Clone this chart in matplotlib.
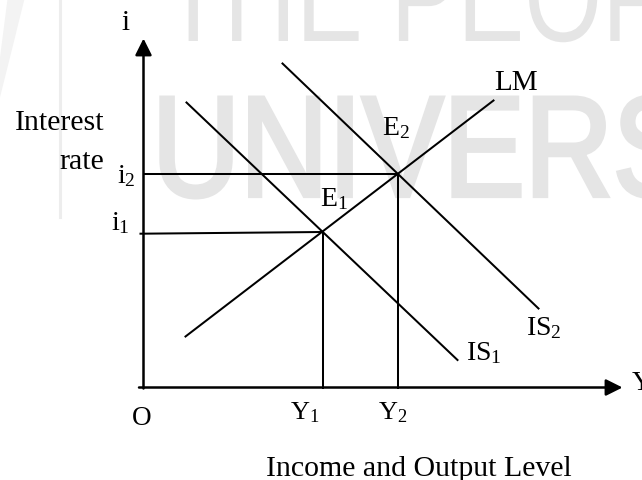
import matplotlib
matplotlib.use("Agg")
import matplotlib.pyplot as plt
from matplotlib.textpath import TextPath
from matplotlib.patches import PathPatch, Polygon
from matplotlib.font_manager import FontProperties
from matplotlib.transforms import Affine2D

plt.rcParams['font.family'] = ['Liberation Serif', 'DejaVu Serif']
plt.rcParams['mathtext.fontset'] = 'custom'
plt.rcParams['mathtext.rm'] = 'Liberation Serif'
plt.rcParams['mathtext.it'] = 'Liberation Serif:italic'

# equilibrium values (income, interest rate)
Y_EQ = [17.9, 25.4]      # Y1, Y2
I_EQ = [15.55, 21.35]    # i1, i2
I1_START = 15.38         # i1 guide starts a bit lower at the axis

# curves, end points
LM_X = [4.2, 35.0]
LM_Y = [5.1, 28.7]
IS1_X = [4.3, 31.4]
IS1_Y = [28.5, 2.75]
IS2_X = [13.9, 39.5]
IS2_Y = [32.4, 7.9]

X_END = 47.9
Y_END = 34.9

INK = 'black'
WM = '#e5e5e5'

fig = plt.figure(figsize=(6.42, 4.81), dpi=100)
ax = fig.add_axes([0, 0, 1, 1])
ax.set_xlim(-14.35, 49.85)
ax.set_ylim(-9.25, 38.85)
ax.axis('off')

# watermark in the background
def wm_text(s, x, y, size, sx, edge=0.0):
    tp = TextPath((0, 0), s, size=size, prop=FontProperties(family='Liberation Sans'))
    tr = Affine2D().scale(sx, 1.0).translate(x, y)
    ax.add_patch(PathPatch(tr.transform_path(tp), fc=WM, ec=WM, lw=edge, zorder=0))

wm_text("THE PEOPLE'S", 1.92, 34.65, 13.0, 0.77)
wm_text("UNIVERSITY", 0.85, 19.15, 14.3, 0.853, edge=3.0)
ax.plot([-8.35, -8.35], [38.85, 17.05], color='#ededed', lw=2.2, zorder=0)
ax.add_patch(Polygon([[-13.6, 38.85], [-11.9, 38.85], [-14.35, 29.0], [-14.35, 33.0]],
                     closed=True, fc='#f3f3f3', ec='none', zorder=0))

# axes with arrow heads
arr = dict(arrowstyle='-|>,head_length=0.4,head_width=0.2', color=INK, lw=1.8,
           mutation_scale=25, shrinkA=0, shrinkB=0)
ax.annotate('', xy=(X_END, 0), xytext=(-0.45, 0), arrowprops=arr)
ax.annotate('', xy=(0, Y_END), xytext=(0, -0.1), arrowprops=arr)

lw = 1.45
ax.plot(LM_X, LM_Y, color=INK, lw=lw)
ax.plot(IS1_X, IS1_Y, color=INK, lw=lw)
ax.plot(IS2_X, IS2_Y, color=INK, lw=lw)

# guide lines to the axes
ax.plot([-0.3, Y_EQ[0]], [I1_START, I_EQ[0]], color=INK, lw=lw)
ax.plot([0, Y_EQ[1]], [I_EQ[1], I_EQ[1]], color=INK, lw=lw)
for yv, iv in zip(Y_EQ, I_EQ):
    ax.plot([yv, yv], [0, iv], color=INK, lw=lw)

fs = 20
ax.text(-1.75, 36.55, 'i', fontsize=21, ha='center', va='center')
ax.text(-3.95, 26.55, 'Interest', fontsize=21.5, ha='right', va='center')
ax.text(-3.95, 22.65, 'rate', fontsize=21.5, ha='right', va='center')
ax.text(-0.75, 20.55, r'$\mathrm{i}_2$', fontsize=fs, ha='right', va='baseline')
ax.text(-1.35, 15.85, r'$\mathrm{i}_1$', fontsize=fs, ha='right', va='baseline')
ax.text(23.8, 25.35, r'$\mathrm{E}_2$', fontsize=fs, ha='left', va='baseline')
ax.text(17.65, 18.2, r'$\mathrm{E}_1$', fontsize=fs, ha='left', va='baseline')
ax.text(35.1, 29.9, 'LM', fontsize=21, ha='left', va='baseline')
ax.text(38.3, 5.35, r'$\mathrm{IS}_2$', fontsize=fs, ha='left', va='baseline')
ax.text(32.3, 2.85, r'$\mathrm{IS}_1$', fontsize=fs, ha='left', va='baseline')
ax.text(14.6, -3.1, r'$\mathrm{Y}_1$', fontsize=19, ha='left', va='baseline')
ax.text(23.4, -3.1, r'$\mathrm{Y}_2$', fontsize=19, ha='left', va='baseline')
ax.text(-0.2, -3.65, 'O', fontsize=19.5, ha='center', va='baseline')
# the Y at the arrow tip runs off the right edge, as in the original
ax.text(48.8, -0.15, 'Y', fontsize=fs, ha='left', va='baseline')
ax.text(27.5, -8.8, 'Income and Output Level', fontsize=21.5, ha='center', va='baseline')

fig.savefig('out.png', dpi=100)
